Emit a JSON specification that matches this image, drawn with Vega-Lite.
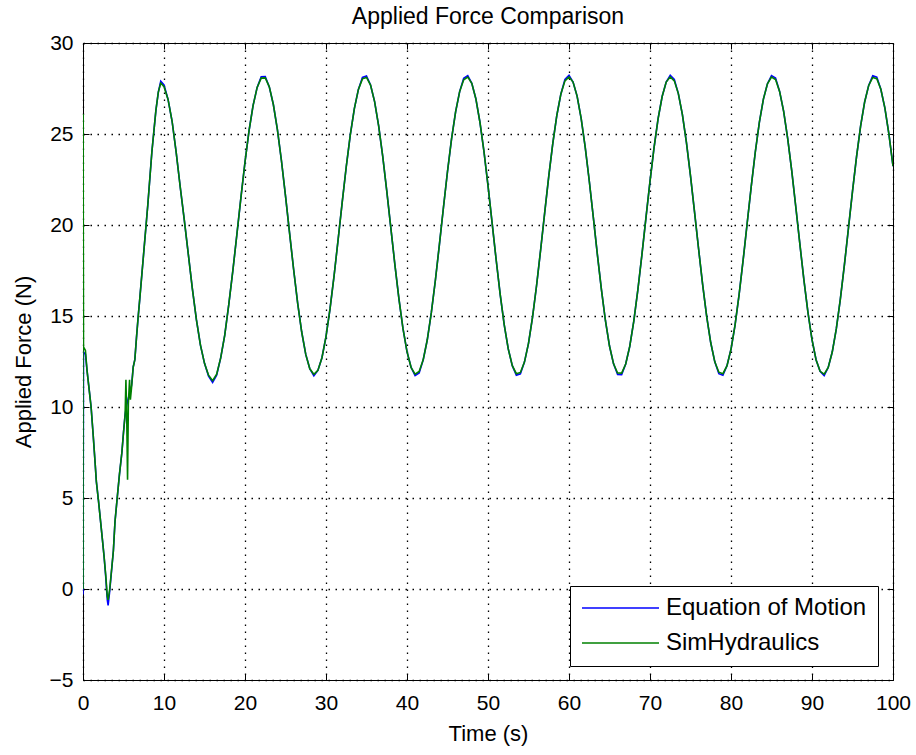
{
  "$schema": "https://vega.github.io/schema/vega-lite/v6.json",
  "width": 810,
  "height": 637,
  "autosize": {"type": "none"},
  "padding": {"left": 83, "top": 43, "right": 23, "bottom": 75},
  "background": "white",
  "title": {"text": "Applied Force Comparison", "fontSize": 23, "fontWeight": "normal", "font": "Liberation Sans", "color": "black", "offset": 3},
  "data": {"values": [
    {"t": 0, "Equation of Motion": -0.3, "SimHydraulics": 0},
    {"t": 0.01, "SimHydraulics": 26.1},
    {"t": 0.06, "Equation of Motion": 13.0, "SimHydraulics": 13.3},
    {"t": 0.3, "Equation of Motion": 12.9, "SimHydraulics": 13.1},
    {"t": 0.5, "Equation of Motion": 12.0, "SimHydraulics": 12.0},
    {"t": 0.7, "Equation of Motion": 11.2, "SimHydraulics": 11.2},
    {"t": 1.0, "Equation of Motion": 10.0, "SimHydraulics": 10.0},
    {"t": 1.25, "Equation of Motion": 8.5, "SimHydraulics": 8.5},
    {"t": 1.5, "Equation of Motion": 6.9, "SimHydraulics": 6.9},
    {"t": 1.65, "Equation of Motion": 5.9, "SimHydraulics": 5.9},
    {"t": 1.9, "Equation of Motion": 4.9, "SimHydraulics": 4.9},
    {"t": 2.15, "Equation of Motion": 3.8, "SimHydraulics": 3.8},
    {"t": 2.4, "Equation of Motion": 2.7, "SimHydraulics": 2.7},
    {"t": 2.6, "Equation of Motion": 1.8, "SimHydraulics": 1.8},
    {"t": 2.8, "Equation of Motion": 0.7, "SimHydraulics": 0.8},
    {"t": 3.0, "Equation of Motion": -0.6, "SimHydraulics": -0.4},
    {"t": 3.1, "Equation of Motion": -0.9, "SimHydraulics": -0.6},
    {"t": 3.3, "Equation of Motion": -0.1, "SimHydraulics": 0.0},
    {"t": 3.75, "Equation of Motion": 2.1, "SimHydraulics": 2.1},
    {"t": 3.95, "Equation of Motion": 3.7, "SimHydraulics": 3.7},
    {"t": 4.2, "Equation of Motion": 4.9, "SimHydraulics": 4.9},
    {"t": 4.5, "Equation of Motion": 6.3, "SimHydraulics": 6.3},
    {"t": 4.8, "Equation of Motion": 7.5, "SimHydraulics": 7.5},
    {"t": 5.0, "Equation of Motion": 8.6, "SimHydraulics": 8.6},
    {"t": 5.2, "Equation of Motion": 9.6, "SimHydraulics": 9.6},
    {"t": 5.3, "SimHydraulics": 11.5},
    {"t": 5.4, "Equation of Motion": 10.1, "SimHydraulics": 9.4},
    {"t": 5.5, "SimHydraulics": 6.0},
    {"t": 5.6, "Equation of Motion": 10.5, "SimHydraulics": 10.2},
    {"t": 5.75, "SimHydraulics": 11.5},
    {"t": 5.85, "Equation of Motion": 10.9, "SimHydraulics": 10.4},
    {"t": 6.0, "Equation of Motion": 11.2, "SimHydraulics": 11.1},
    {"t": 6.2, "Equation of Motion": 12.2, "SimHydraulics": 12.2},
    {"t": 6.4, "Equation of Motion": 12.6, "SimHydraulics": 12.6},
    {"t": 6.6, "Equation of Motion": 13.8, "SimHydraulics": 13.8},
    {"t": 6.8, "Equation of Motion": 14.9, "SimHydraulics": 14.9},
    {"t": 7.0, "Equation of Motion": 15.9, "SimHydraulics": 15.9},
    {"t": 7.5, "Equation of Motion": 18.5, "SimHydraulics": 18.5},
    {"t": 8.0, "Equation of Motion": 21.1, "SimHydraulics": 21.1},
    {"t": 8.5, "Equation of Motion": 24.0, "SimHydraulics": 24.0},
    {"t": 9.0, "Equation of Motion": 26.3, "SimHydraulics": 26.3},
    {"t": 9.3, "Equation of Motion": 27.3, "SimHydraulics": 27.3},
    {"t": 9.6, "Equation of Motion": 27.9, "SimHydraulics": 27.8},
    {"t": 10.0, "Equation of Motion": 27.7, "SimHydraulics": 27.6},
    {"t": 10.5, "Equation of Motion": 26.9, "SimHydraulics": 26.9},
    {"t": 11.0, "Equation of Motion": 25.7, "SimHydraulics": 25.7},
    {"t": 11.5, "Equation of Motion": 24.0, "SimHydraulics": 24.0},
    {"t": 12.0, "Equation of Motion": 22.1, "SimHydraulics": 22.1},
    {"t": 12.5, "Equation of Motion": 20.3, "SimHydraulics": 20.3},
    {"t": 13.0, "Equation of Motion": 18.4, "SimHydraulics": 18.4},
    {"t": 13.5, "Equation of Motion": 16.5, "SimHydraulics": 16.5},
    {"t": 14.0, "Equation of Motion": 14.8, "SimHydraulics": 14.8},
    {"t": 14.5, "Equation of Motion": 13.4, "SimHydraulics": 13.4},
    {"t": 15.0, "Equation of Motion": 12.4, "SimHydraulics": 12.4},
    {"t": 15.5, "Equation of Motion": 11.7, "SimHydraulics": 11.75},
    {"t": 16.0, "Equation of Motion": 11.35, "SimHydraulics": 11.45},
    {"t": 16.5, "Equation of Motion": 11.75, "SimHydraulics": 11.8},
    {"t": 17.0, "Equation of Motion": 12.7, "SimHydraulics": 12.7},
    {"t": 17.5, "Equation of Motion": 13.95, "SimHydraulics": 13.95},
    {"t": 18.0, "Equation of Motion": 15.64, "SimHydraulics": 15.64},
    {"t": 18.5, "Equation of Motion": 17.49, "SimHydraulics": 17.49},
    {"t": 19.0, "Equation of Motion": 19.49, "SimHydraulics": 19.49},
    {"t": 19.5, "Equation of Motion": 21.52, "SimHydraulics": 21.52},
    {"t": 20.0, "Equation of Motion": 23.46, "SimHydraulics": 23.46},
    {"t": 20.5, "Equation of Motion": 25.18, "SimHydraulics": 25.18},
    {"t": 21.0, "Equation of Motion": 26.57, "SimHydraulics": 26.57},
    {"t": 21.5, "Equation of Motion": 27.56, "SimHydraulics": 27.56},
    {"t": 22.0, "Equation of Motion": 28.15, "SimHydraulics": 28.07},
    {"t": 22.5, "Equation of Motion": 28.16, "SimHydraulics": 28.08},
    {"t": 23.0, "Equation of Motion": 27.59, "SimHydraulics": 27.59},
    {"t": 23.5, "Equation of Motion": 26.62, "SimHydraulics": 26.62},
    {"t": 24.0, "Equation of Motion": 25.24, "SimHydraulics": 25.24},
    {"t": 24.5, "Equation of Motion": 23.53, "SimHydraulics": 23.53},
    {"t": 25.0, "Equation of Motion": 21.6, "SimHydraulics": 21.6},
    {"t": 25.5, "Equation of Motion": 19.57, "SimHydraulics": 19.57},
    {"t": 26.0, "Equation of Motion": 17.57, "SimHydraulics": 17.57},
    {"t": 26.5, "Equation of Motion": 15.71, "SimHydraulics": 15.71},
    {"t": 27.0, "Equation of Motion": 14.12, "SimHydraulics": 14.12},
    {"t": 27.5, "Equation of Motion": 12.89, "SimHydraulics": 12.89},
    {"t": 28.0, "Equation of Motion": 12.1, "SimHydraulics": 12.1},
    {"t": 28.5, "Equation of Motion": 11.72, "SimHydraulics": 11.8},
    {"t": 29.0, "Equation of Motion": 12.01, "SimHydraulics": 12.01},
    {"t": 29.5, "Equation of Motion": 12.71, "SimHydraulics": 12.71},
    {"t": 30.0, "Equation of Motion": 13.87, "SimHydraulics": 13.87},
    {"t": 30.5, "Equation of Motion": 15.4, "SimHydraulics": 15.4},
    {"t": 31.0, "Equation of Motion": 17.22, "SimHydraulics": 17.22},
    {"t": 31.5, "Equation of Motion": 19.21, "SimHydraulics": 19.21},
    {"t": 32.0, "Equation of Motion": 21.24, "SimHydraulics": 21.24},
    {"t": 32.5, "Equation of Motion": 23.2, "SimHydraulics": 23.2},
    {"t": 33.0, "Equation of Motion": 24.95, "SimHydraulics": 24.95},
    {"t": 33.5, "Equation of Motion": 26.4, "SimHydraulics": 26.4},
    {"t": 34.0, "Equation of Motion": 27.45, "SimHydraulics": 27.45},
    {"t": 34.5, "Equation of Motion": 28.11, "SimHydraulics": 28.03},
    {"t": 35.0, "Equation of Motion": 28.19, "SimHydraulics": 28.11},
    {"t": 35.5, "Equation of Motion": 27.69, "SimHydraulics": 27.69},
    {"t": 36.0, "Equation of Motion": 26.78, "SimHydraulics": 26.78},
    {"t": 36.5, "Equation of Motion": 25.45, "SimHydraulics": 25.45},
    {"t": 37.0, "Equation of Motion": 23.79, "SimHydraulics": 23.79},
    {"t": 37.5, "Equation of Motion": 21.88, "SimHydraulics": 21.88},
    {"t": 38.0, "Equation of Motion": 19.86, "SimHydraulics": 19.86},
    {"t": 38.5, "Equation of Motion": 17.84, "SimHydraulics": 17.84},
    {"t": 39.0, "Equation of Motion": 15.95, "SimHydraulics": 15.95},
    {"t": 39.5, "Equation of Motion": 14.32, "SimHydraulics": 14.32},
    {"t": 40.0, "Equation of Motion": 13.04, "SimHydraulics": 13.04},
    {"t": 40.5, "Equation of Motion": 12.18, "SimHydraulics": 12.18},
    {"t": 41.0, "Equation of Motion": 11.73, "SimHydraulics": 11.81},
    {"t": 41.5, "Equation of Motion": 11.87, "SimHydraulics": 11.95},
    {"t": 42.0, "Equation of Motion": 12.59, "SimHydraulics": 12.59},
    {"t": 42.5, "Equation of Motion": 13.68, "SimHydraulics": 13.68},
    {"t": 43.0, "Equation of Motion": 15.17, "SimHydraulics": 15.17},
    {"t": 43.5, "Equation of Motion": 16.95, "SimHydraulics": 16.95},
    {"t": 44.0, "Equation of Motion": 18.92, "SimHydraulics": 18.92},
    {"t": 44.5, "Equation of Motion": 20.96, "SimHydraulics": 20.96},
    {"t": 45.0, "Equation of Motion": 22.94, "SimHydraulics": 22.94},
    {"t": 45.5, "Equation of Motion": 24.73, "SimHydraulics": 24.73},
    {"t": 46.0, "Equation of Motion": 26.22, "SimHydraulics": 26.22},
    {"t": 46.5, "Equation of Motion": 27.33, "SimHydraulics": 27.33},
    {"t": 47.0, "Equation of Motion": 28.06, "SimHydraulics": 27.98},
    {"t": 47.5, "Equation of Motion": 28.21, "SimHydraulics": 28.13},
    {"t": 48.0, "Equation of Motion": 27.78, "SimHydraulics": 27.78},
    {"t": 48.5, "Equation of Motion": 26.94, "SimHydraulics": 26.94},
    {"t": 49.0, "Equation of Motion": 25.66, "SimHydraulics": 25.66},
    {"t": 49.5, "Equation of Motion": 24.04, "SimHydraulics": 24.04},
    {"t": 50.0, "Equation of Motion": 22.16, "SimHydraulics": 22.16},
    {"t": 50.5, "Equation of Motion": 20.14, "SimHydraulics": 20.14},
    {"t": 51.0, "Equation of Motion": 18.12, "SimHydraulics": 18.12},
    {"t": 51.5, "Equation of Motion": 16.2, "SimHydraulics": 16.2},
    {"t": 52.0, "Equation of Motion": 14.53, "SimHydraulics": 14.53},
    {"t": 52.5, "Equation of Motion": 13.19, "SimHydraulics": 13.19},
    {"t": 53.0, "Equation of Motion": 12.27, "SimHydraulics": 12.27},
    {"t": 53.5, "Equation of Motion": 11.75, "SimHydraulics": 11.83},
    {"t": 54.0, "Equation of Motion": 11.82, "SimHydraulics": 11.9},
    {"t": 54.5, "Equation of Motion": 12.47, "SimHydraulics": 12.47},
    {"t": 55.0, "Equation of Motion": 13.5, "SimHydraulics": 13.5},
    {"t": 55.5, "Equation of Motion": 14.94, "SimHydraulics": 14.94},
    {"t": 56.0, "Equation of Motion": 16.69, "SimHydraulics": 16.69},
    {"t": 56.5, "Equation of Motion": 18.64, "SimHydraulics": 18.64},
    {"t": 57.0, "Equation of Motion": 20.68, "SimHydraulics": 20.68},
    {"t": 57.5, "Equation of Motion": 22.67, "SimHydraulics": 22.67},
    {"t": 58.0, "Equation of Motion": 24.49, "SimHydraulics": 24.49},
    {"t": 58.5, "Equation of Motion": 26.03, "SimHydraulics": 26.03},
    {"t": 59.0, "Equation of Motion": 27.2, "SimHydraulics": 27.2},
    {"t": 59.5, "Equation of Motion": 28.0, "SimHydraulics": 27.92},
    {"t": 60.0, "Equation of Motion": 28.22, "SimHydraulics": 28.14},
    {"t": 60.5, "Equation of Motion": 27.85, "SimHydraulics": 27.85},
    {"t": 61.0, "Equation of Motion": 27.08, "SimHydraulics": 27.08},
    {"t": 61.5, "Equation of Motion": 25.86, "SimHydraulics": 25.86},
    {"t": 62.0, "Equation of Motion": 24.28, "SimHydraulics": 24.28},
    {"t": 62.5, "Equation of Motion": 22.43, "SimHydraulics": 22.43},
    {"t": 63.0, "Equation of Motion": 20.43, "SimHydraulics": 20.43},
    {"t": 63.5, "Equation of Motion": 18.39, "SimHydraulics": 18.39},
    {"t": 64.0, "Equation of Motion": 16.46, "SimHydraulics": 16.46},
    {"t": 64.5, "Equation of Motion": 14.74, "SimHydraulics": 14.74},
    {"t": 65.0, "Equation of Motion": 13.35, "SimHydraulics": 13.35},
    {"t": 65.5, "Equation of Motion": 12.37, "SimHydraulics": 12.37},
    {"t": 66.0, "Equation of Motion": 11.79, "SimHydraulics": 11.87},
    {"t": 66.5, "Equation of Motion": 11.78, "SimHydraulics": 11.86},
    {"t": 67.0, "Equation of Motion": 12.36, "SimHydraulics": 12.36},
    {"t": 67.5, "Equation of Motion": 13.33, "SimHydraulics": 13.33},
    {"t": 68.0, "Equation of Motion": 14.72, "SimHydraulics": 14.72},
    {"t": 68.5, "Equation of Motion": 16.43, "SimHydraulics": 16.43},
    {"t": 69.0, "Equation of Motion": 18.36, "SimHydraulics": 18.36},
    {"t": 69.5, "Equation of Motion": 20.39, "SimHydraulics": 20.39},
    {"t": 70.0, "Equation of Motion": 22.4, "SimHydraulics": 22.4},
    {"t": 70.5, "Equation of Motion": 24.25, "SimHydraulics": 24.25},
    {"t": 71.0, "Equation of Motion": 25.84, "SimHydraulics": 25.84},
    {"t": 71.5, "Equation of Motion": 27.06, "SimHydraulics": 27.06},
    {"t": 72.0, "Equation of Motion": 27.85, "SimHydraulics": 27.85},
    {"t": 72.5, "Equation of Motion": 28.22, "SimHydraulics": 28.14},
    {"t": 73.0, "Equation of Motion": 28.0, "SimHydraulics": 27.92},
    {"t": 73.5, "Equation of Motion": 27.22, "SimHydraulics": 27.22},
    {"t": 74.0, "Equation of Motion": 26.06, "SimHydraulics": 26.06},
    {"t": 74.5, "Equation of Motion": 24.52, "SimHydraulics": 24.52},
    {"t": 75.0, "Equation of Motion": 22.7, "SimHydraulics": 22.7},
    {"t": 75.5, "Equation of Motion": 20.71, "SimHydraulics": 20.71},
    {"t": 76.0, "Equation of Motion": 18.68, "SimHydraulics": 18.68},
    {"t": 76.5, "Equation of Motion": 16.72, "SimHydraulics": 16.72},
    {"t": 77.0, "Equation of Motion": 14.97, "SimHydraulics": 14.97},
    {"t": 77.5, "Equation of Motion": 13.53, "SimHydraulics": 13.53},
    {"t": 78.0, "Equation of Motion": 12.48, "SimHydraulics": 12.48},
    {"t": 78.5, "Equation of Motion": 11.83, "SimHydraulics": 11.91},
    {"t": 79.0, "Equation of Motion": 11.75, "SimHydraulics": 11.83},
    {"t": 79.5, "Equation of Motion": 12.26, "SimHydraulics": 12.26},
    {"t": 80.0, "Equation of Motion": 13.17, "SimHydraulics": 13.17},
    {"t": 80.5, "Equation of Motion": 14.5, "SimHydraulics": 14.5},
    {"t": 81.0, "Equation of Motion": 16.17, "SimHydraulics": 16.17},
    {"t": 81.5, "Equation of Motion": 18.08, "SimHydraulics": 18.08},
    {"t": 82.0, "Equation of Motion": 20.11, "SimHydraulics": 20.11},
    {"t": 82.5, "Equation of Motion": 22.12, "SimHydraulics": 22.12},
    {"t": 83.0, "Equation of Motion": 24.01, "SimHydraulics": 24.01},
    {"t": 83.5, "Equation of Motion": 25.64, "SimHydraulics": 25.64},
    {"t": 84.0, "Equation of Motion": 26.92, "SimHydraulics": 26.92},
    {"t": 84.5, "Equation of Motion": 27.76, "SimHydraulics": 27.76},
    {"t": 85.0, "Equation of Motion": 28.21, "SimHydraulics": 28.13},
    {"t": 85.5, "Equation of Motion": 28.07, "SimHydraulics": 27.99},
    {"t": 86.0, "Equation of Motion": 27.34, "SimHydraulics": 27.34},
    {"t": 86.5, "Equation of Motion": 26.24, "SimHydraulics": 26.24},
    {"t": 87.0, "Equation of Motion": 24.75, "SimHydraulics": 24.75},
    {"t": 87.5, "Equation of Motion": 22.97, "SimHydraulics": 22.97},
    {"t": 88.0, "Equation of Motion": 20.99, "SimHydraulics": 20.99},
    {"t": 88.5, "Equation of Motion": 18.96, "SimHydraulics": 18.96},
    {"t": 89.0, "Equation of Motion": 16.98, "SimHydraulics": 16.98},
    {"t": 89.5, "Equation of Motion": 15.2, "SimHydraulics": 15.2},
    {"t": 90.0, "Equation of Motion": 13.7, "SimHydraulics": 13.7},
    {"t": 90.5, "Equation of Motion": 12.6, "SimHydraulics": 12.6},
    {"t": 91.0, "Equation of Motion": 11.96, "SimHydraulics": 11.96},
    {"t": 91.5, "Equation of Motion": 11.73, "SimHydraulics": 11.81},
    {"t": 92.0, "Equation of Motion": 12.17, "SimHydraulics": 12.17},
    {"t": 92.5, "Equation of Motion": 13.02, "SimHydraulics": 13.02},
    {"t": 93.0, "Equation of Motion": 14.29, "SimHydraulics": 14.29},
    {"t": 93.5, "Equation of Motion": 15.93, "SimHydraulics": 15.93},
    {"t": 94.0, "Equation of Motion": 17.81, "SimHydraulics": 17.81},
    {"t": 94.5, "Equation of Motion": 19.82, "SimHydraulics": 19.82},
    {"t": 95.0, "Equation of Motion": 21.85, "SimHydraulics": 21.85},
    {"t": 95.5, "Equation of Motion": 23.76, "SimHydraulics": 23.76},
    {"t": 96.0, "Equation of Motion": 25.43, "SimHydraulics": 25.43},
    {"t": 96.5, "Equation of Motion": 26.76, "SimHydraulics": 26.76},
    {"t": 97.0, "Equation of Motion": 27.67, "SimHydraulics": 27.67},
    {"t": 97.5, "Equation of Motion": 28.2, "SimHydraulics": 28.11},
    {"t": 98.0, "Equation of Motion": 28.12, "SimHydraulics": 28.04},
    {"t": 98.5, "Equation of Motion": 27.46, "SimHydraulics": 27.46},
    {"t": 99.0, "Equation of Motion": 26.42, "SimHydraulics": 26.42},
    {"t": 99.5, "Equation of Motion": 24.98, "SimHydraulics": 24.98},
    {"t": 100.0, "Equation of Motion": 23.23, "SimHydraulics": 23.23}
  ]},
  "transform": [
    {"fold": ["Equation of Motion", "SimHydraulics"], "as": ["series", "force"]},
    {"filter": "isValid(datum.force)"}
  ],
  "layer": [
    {
      "transform": [{"filter": "datum.series == 'Equation of Motion'"}],
      "mark": {"type": "line", "strokeWidth": 1.6, "clip": true},
      "encoding": {
        "x": {
          "field": "t", "type": "quantitative",
          "scale": {"domain": [0, 100], "nice": false, "zero": false},
          "axis": {"orient": "bottom", "title": "Time (s)", "values": [0, 10, 20, 30, 40, 50, 60, 70, 80, 90, 100],
                   "tickSize": -6, "labelPadding": 18, "titlePadding": 10, "labelFlush": false}
        },
        "y": {
          "field": "force", "type": "quantitative",
          "scale": {"domain": [-5, 30], "nice": false, "zero": false},
          "axis": {"orient": "left", "title": "Applied Force (N)", "values": [-5, 0, 5, 10, 15, 20, 25, 30],
                   "tickSize": -6, "labelPadding": 16, "titlePadding": 14}
        },
        "color": {
          "field": "series", "type": "nominal",
          "scale": {"domain": ["Equation of Motion", "SimHydraulics"], "range": ["#0000ff", "#008000"]},
          "legend": {
            "orient": "none", "legendX": 487, "legendY": 543, "title": null,
            "symbolType": "stroke", "symbolSize": 5929, "symbolStrokeWidth": 1.6,
            "labelFontSize": 24, "labelFont": "Liberation Sans", "labelColor": "black", "labelLimit": 400,
            "strokeColor": "black", "fillColor": "white", "padding": 11, "rowPadding": 11, "labelOffset": 6,
            "encode": {
              "symbols": {"update": {"y": {"value": 11}}},
              "labels": {"update": {"y": {"value": 11}}}
            }
          }
        }
      }
    },
    {
      "transform": [{"filter": "datum.series == 'SimHydraulics'"}],
      "mark": {"type": "line", "strokeWidth": 1.6, "clip": true},
      "encoding": {
        "x": {
          "field": "t", "type": "quantitative",
          "axis": {"orient": "top", "title": null, "labels": false, "grid": false, "domain": false,
                   "values": [0, 10, 20, 30, 40, 50, 60, 70, 80, 90, 100], "tickSize": -6}
        },
        "y": {
          "field": "force", "type": "quantitative",
          "axis": {"orient": "right", "title": null, "labels": false, "grid": false, "domain": false,
                   "values": [-5, 0, 5, 10, 15, 20, 25, 30], "tickSize": -6}
        },
        "color": {"field": "series", "type": "nominal"}
      }
    }
  ],
  "resolve": {"axis": {"x": "independent", "y": "independent"}},
  "config": {
    "font": "Liberation Sans",
    "view": {"stroke": "black", "strokeWidth": 1},
    "axis": {
      "domainColor": "black", "domainWidth": 1,
      "tickColor": "black", "tickWidth": 1,
      "labelColor": "black", "labelFontSize": 21, "labelFont": "Liberation Sans",
      "titleColor": "black", "titleFontSize": 22, "titleFontWeight": "normal", "titleFont": "Liberation Sans",
      "grid": true, "gridColor": "black", "gridOpacity": 1, "gridWidth": 1.3, "gridDash": [1.5, 5.5]
    }
  }
}
